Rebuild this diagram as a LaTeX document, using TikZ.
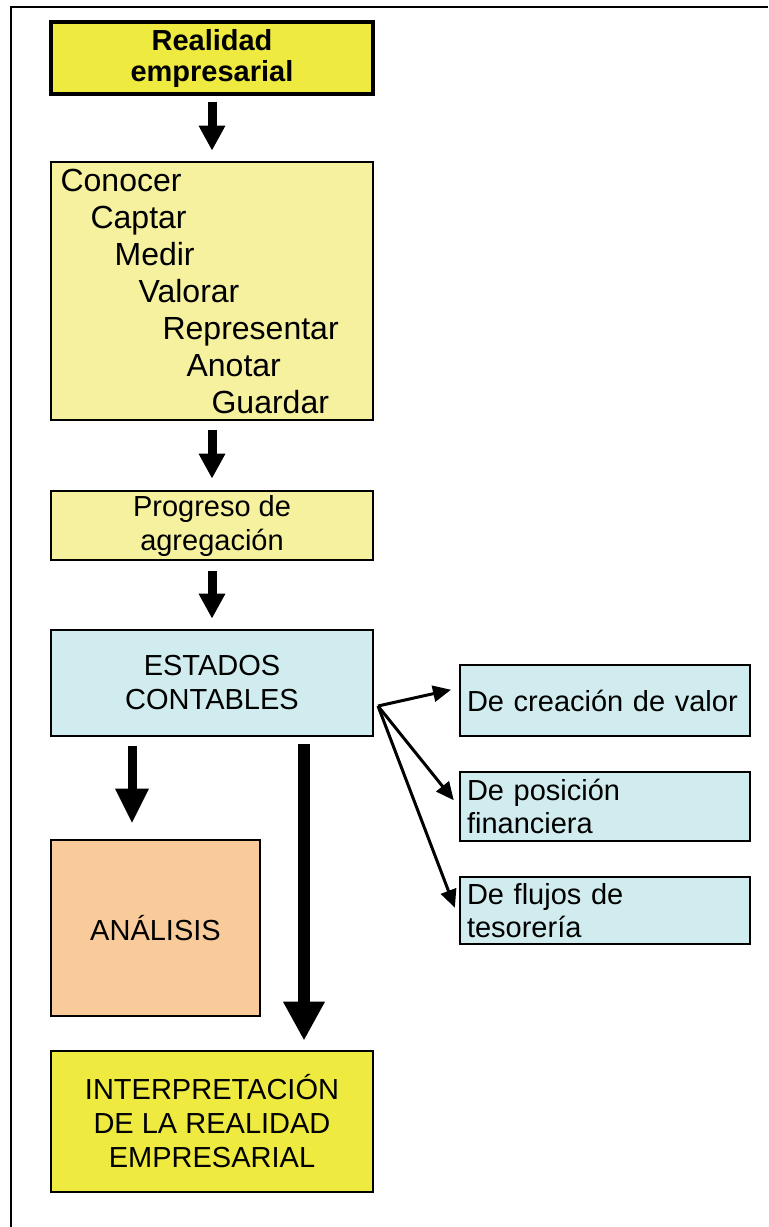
\documentclass[tikz,border=0pt]{standalone}
\usepackage{fontspec}
\setmainfont{Liberation Sans}
\usetikzlibrary{arrows.meta}

\definecolor{amarillo}{RGB}{238,234,64}
\definecolor{amarillopal}{RGB}{245,241,158}
\definecolor{celeste}{RGB}{208,236,238}
\definecolor{salmon}{RGB}{249,203,154}

\begin{document}
\begin{tikzpicture}[x=0.5pt, y=-0.5pt, line join=miter,
    caja/.style={draw, line width=1.35pt, inner sep=0pt, minimum width=161pt,
        align=center, font=\fontsize{14.5}{17}\selectfont},
    cajader/.style={draw, line width=1.2pt, fill=celeste, minimum width=145pt,
        text width=138pt, inner xsep=3.5pt, inner ysep=0pt, align=left,
        font=\fontsize{14.5}{16.5}\selectfont},
    flecha/.style={line width=4.5pt, -{Triangle[length=12.5pt, width=12.5pt]}},
    flechota/.style={line width=6pt, -{Triangle[length=19.5pt, width=19.5pt]}},
    flechita/.style={line width=1.5pt, -{Triangle[length=9pt, width=8pt]}}]
    \useasboundingbox (0,0) rectangle (768,1227);
    \draw[line width=1pt] (768,7) -- (11,7) -- (11,1227);

    % columna principal
    \node[caja, fill=amarillo, line width=1.6pt, minimum height=36pt,
        font=\bfseries\fontsize{14.5}{15.5}\selectfont] (realidad) at (212,58)
        {Realidad\\empresarial};
    \node[caja, fill=amarillopal, minimum height=129pt, text width=151.4pt,
        inner xsep=4.8pt, align=left, font=\fontsize{16}{18.5}\selectfont]
        (registro) at (212,291)
        {Conocer\\
         \hspace*{15pt}Captar\\
         \hspace*{27pt}Medir\\
         \hspace*{39pt}Valorar\\
         \hspace*{51pt}Representar\\
         \hspace*{63pt}Anotar\\
         \hspace*{75.5pt}Guardar};
    \node[caja, fill=amarillopal, minimum height=34.5pt] (progreso) at (212,525.5)
        {Progreso de\\agregación};
    \node[caja, fill=celeste, minimum height=53pt] (estados) at (212,683)
        {ESTADOS\\CONTABLES};
    \node[caja, fill=salmon, minimum width=104.5pt, minimum height=88pt]
        (analisis) at (155.5,928) {ANÁLISIS};
    \node[caja, fill=amarillo, minimum height=70.5pt] (interp) at (212,1121.5)
        {INTERPRETACIÓN\\DE LA REALIDAD\\EMPRESARIAL};

    % estados a la derecha
    \node[cajader, minimum height=35.5pt] (creacion) at (605,700.5)
        {De creación de valor};
    \node[cajader, minimum height=34.5pt] (posicion) at (605,806.5)
        {De posición\\financiera};
    \node[cajader, minimum height=33.5pt] (flujos) at (605,910.5)
        {De flujos de\\tesorería};

    \draw[flecha, shorten <=3pt, shorten >=5pt] (realidad.south) -- (registro.north);
    \draw[flecha, shorten <=4.5pt, shorten >=5.5pt] (registro.south) -- (progreso.north);
    \draw[flecha, shorten <=5pt, shorten >=5pt] (progreso.south) -- (estados.north);

    \draw[line width=4.5pt, -{Triangle[length=17.5pt, width=15.5pt]},
        shorten <=4.5pt, shorten >=7.5pt]
        ([xshift=-40pt]estados.south) -- ([xshift=-11.75pt]analisis.north);
    \draw[flechota, shorten <=3.5pt, shorten >=4.5pt]
        ([xshift=46pt]estados.south) -- ([xshift=46pt]interp.north);

    \coordinate (horq) at (378,706);
    \draw[flechita, shorten >=4pt] (horq) -- ([yshift=6.25pt]creacion.west);
    \draw[flechita, shorten >=4pt] (horq) -- (posicion.west);
    \draw[flechita, shorten >=5.5pt] (horq) -- ([yshift=-3.75pt]flujos.west);
\end{tikzpicture}
\end{document}
